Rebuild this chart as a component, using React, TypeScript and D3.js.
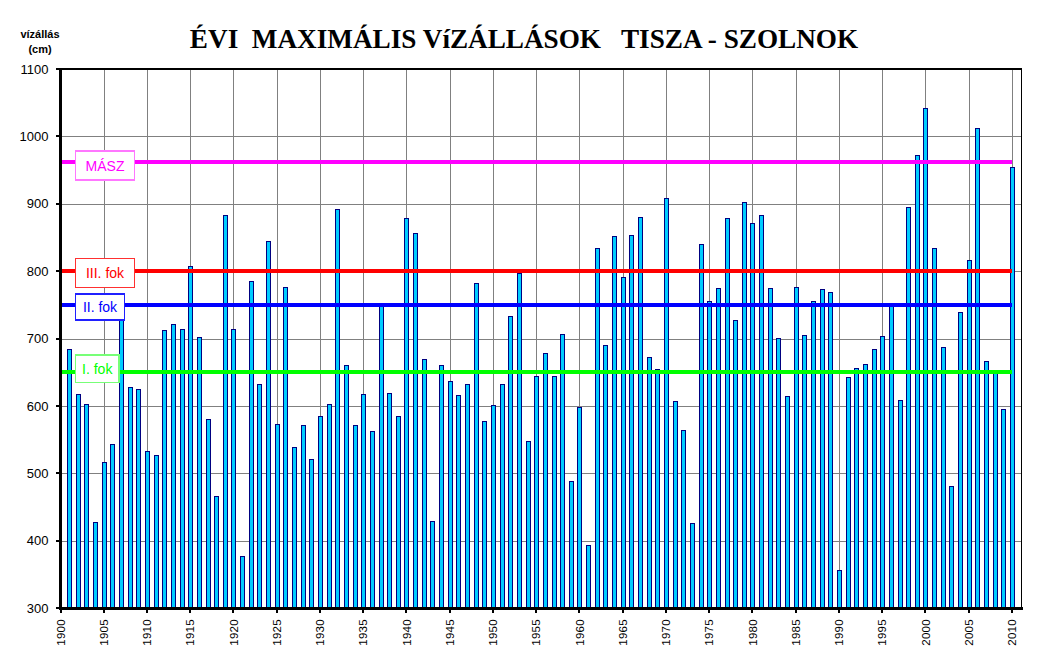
import React from 'react';
import * as d3 from 'd3';

// ---- data ----
const FIRST_YEAR = 1901;
const maxLevels = [
  685, 618, 603, 428, 517, 544, 745, 629, 626, 533,
  528, 713, 722, 715, 808, 702, 581, 467, 884, 715,
  377, 786, 633, 845, 574, 777, 539, 572, 522, 585,
  603, 893, 661, 572, 618, 563, 748, 619, 585, 879,
  856, 670, 429, 661, 637, 617, 633, 783, 578, 602,
  633, 734, 798, 548, 645, 678, 645, 707, 489, 599,
  394, 835, 691, 853, 792, 854, 881, 673, 655, 909,
  608, 565, 426, 840, 756, 775, 879, 728, 903, 872,
  884, 775, 701, 615, 777, 706, 756, 773, 769, 357,
  643, 656, 663, 685, 704, 749, 609, 896, 973, 1042,
  835, 688, 481, 740, 817, 1013, 667, 654, 596, 954,
];
const yTickValues = [300, 400, 500, 600, 700, 800, 900, 1000, 1100];
const xTickValues = [1900, 1905, 1910, 1915, 1920, 1925, 1930, 1935, 1940, 1945, 1950, 1955,
  1960, 1965, 1970, 1975, 1980, 1985, 1990, 1995, 2000, 2005, 2010];
const thresholdNames = ['MÁSZ', 'III. fok', 'II. fok', 'I. fok'];
const thresholdValues = [962, 800, 750, 650];
const thresholdColors = ['#ff00ff', '#ff0000', '#0000ff', '#00ff00'];
const thresholdBorders = ['#ff77ff', '#ff3030', '#2020ff', '#77ff77'];

// ---- layout ----
const W = 1041, H = 671;
const plotLeft = 60.5, plotRight = 1021.5, plotTop = 69, plotBottom = 608.3;
const boxLeft = 75.5;
const boxWidths = [59, 59, 49, 43.5];
const boxHeights = [29, 29, 26, 27.4];
const boxOffsets = [-11, -12.7, -10.7, -17.4];

export default function App() {
  const x = d3.scaleLinear().domain([1900, 2011.1]).range([plotLeft, plotRight]);
  const y = d3.scaleLinear().domain([300, 1100]).range([plotBottom, plotTop]);
  const barW = 4;
  const data = maxLevels.map((v, i) => ({ year: FIRST_YEAR + i, v }));
  const sans = '"Liberation Sans", Arial, sans-serif';

  return (
    <svg width={W} height={H} style={{ position: 'absolute', left: 0, top: 0, background: '#fff' }}
      shapeRendering="crispEdges">
      <rect x={0} y={0} width={W} height={H} fill="#fff" />
      {/* title */}
      <text x={524} y={48} textAnchor="middle" fontFamily='"Liberation Serif", "Times New Roman", serif'
        fontWeight="bold" fontSize={27.2} style={{ whiteSpace: 'pre' }} shapeRendering="auto">
        {'ÉVI  MAXIMÁLIS VíZÁLLÁSOK   TISZA - SZOLNOK'}
      </text>
      <text x={40} y={38} textAnchor="middle" fontFamily={sans} fontWeight="bold" fontSize={11}>vízállás</text>
      <text x={40} y={53} textAnchor="middle" fontFamily={sans} fontWeight="bold" fontSize={11}>(cm)</text>

      {/* horizontal gridlines */}
      {yTickValues.filter(t => t > 300 && t < 1100).map(t => (
        <line key={'hg' + t} x1={plotLeft} x2={plotRight} y1={Math.round(y(t)) + 0.5} y2={Math.round(y(t)) + 0.5}
          stroke="#808080" strokeWidth={1} />
      ))}
      {/* vertical gridlines */}
      {xTickValues.filter(t => t > 1900).map(t => (
        <line key={'vg' + t} x1={Math.round(x(t)) + 0.5} x2={Math.round(x(t)) + 0.5} y1={plotTop} y2={plotBottom}
          stroke="#808080" strokeWidth={1} />
      ))}
      {/* frame top/right */}
      <line x1={plotLeft} x2={plotRight} y1={plotTop} y2={plotTop} stroke="#000" strokeWidth={1.5} />
      <line x1={plotRight} x2={plotRight} y1={plotTop} y2={plotBottom} stroke="#000" strokeWidth={1.5} />

      {/* bars */}
      {data.map(d => (
        <rect key={d.year} x={Math.round(x(d.year) - barW / 2) + 0.5} y={Math.round(y(d.v)) + 0.5}
          width={barW} height={plotBottom - Math.round(y(d.v)) - 0.5}
          fill="#00ccff" stroke="#000080" strokeWidth={1} />
      ))}

      {/* threshold lines */}
      {thresholdValues.map((v, i) => (
        <line key={'th' + i} x1={plotLeft} x2={x(2010)} y1={y(v)} y2={y(v)}
          stroke={thresholdColors[i]} strokeWidth={4} />
      ))}
      {/* threshold labels */}
      {thresholdValues.map((v, i) => {
        const top = y(v) + boxOffsets[i];
        return (
          <g key={'tl' + i}>
            <rect x={boxLeft} y={top} width={boxWidths[i]} height={boxHeights[i]} fill="#fff"
              stroke={thresholdBorders[i]} strokeWidth={1.5} />
            <text x={boxLeft + boxWidths[i] / 2} y={top + boxHeights[i] / 2} dy="0.36em" textAnchor="middle"
              fontFamily={sans} fontSize={14} fill={thresholdColors[i]} shapeRendering="auto">
              {thresholdNames[i]}
            </text>
          </g>
        );
      })}

      {/* axes */}
      <line x1={plotLeft} x2={plotLeft} y1={plotTop - 1} y2={plotBottom + 1.5} stroke="#000" strokeWidth={3} />
      <line x1={plotLeft - 1.5} x2={plotRight + 1} y1={plotBottom} y2={plotBottom} stroke="#000" strokeWidth={3} />
      {yTickValues.map(t => (
        <g key={'yt' + t}>
          <line x1={plotLeft - 5} x2={plotLeft} y1={y(t)} y2={y(t)} stroke="#000" strokeWidth={2} />
          <text x={48.5} y={y(t)} dy="0.35em" textAnchor="end" fontFamily={sans} fontSize={13}
            shapeRendering="auto">{t}</text>
        </g>
      ))}
      {xTickValues.map(t => (
        <g key={'xt' + t}>
          <line x1={x(t)} x2={x(t)} y1={plotBottom} y2={plotBottom + 5} stroke="#000" strokeWidth={2} />
          <text transform={`translate(${x(t)},619) rotate(-90)`} dy="0.35em" textAnchor="end"
            fontFamily={sans} fontSize={11.5} letterSpacing={0.3} shapeRendering="auto">{t}</text>
        </g>
      ))}
    </svg>
  );
}
